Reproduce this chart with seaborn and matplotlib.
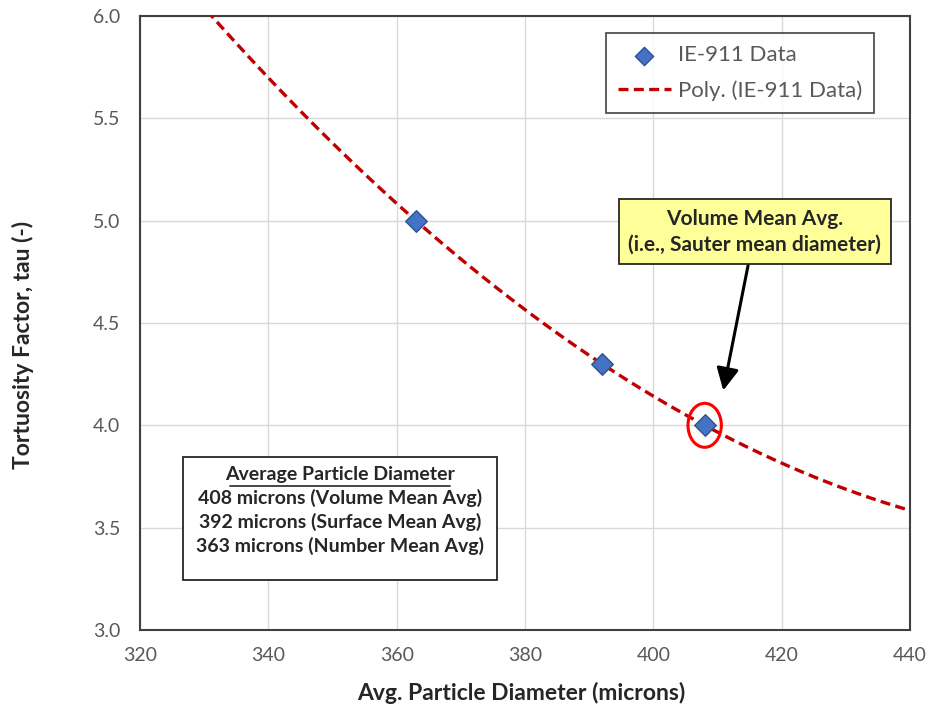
import numpy as np
import pandas as pd
import matplotlib
matplotlib.use("Agg")
import matplotlib.pyplot as plt
from matplotlib.patches import Ellipse
import seaborn as sns

# Measured data
diameters = [363, 392, 408]
tortuosity = [5.0, 4.3, 4.0]
x_ticks = [320, 340, 360, 380, 400, 420, 440]
y_ticks = [3.0, 3.5, 4.0, 4.5, 5.0, 5.5, 6.0]

sns.set_theme(style="whitegrid")
plt.rcParams["font.family"] = ["Lato", "DejaVu Sans"]

df = pd.DataFrame({"d": diameters, "tau": tortuosity})

# Second-order polynomial trendline
coef = np.polyfit(diameters, tortuosity, 2)
xs = np.linspace(320, 440, 400)
trend = pd.DataFrame({"d": xs, "tau": np.polyval(coef, xs)})

fig = plt.figure(figsize=(9.3, 7.11), dpi=100)
ax = fig.add_axes([0.1505, 0.114, 0.828, 0.8635])

sns.lineplot(data=trend, x="d", y="tau", ax=ax, color="#C00000",
             linestyle=(0, (3, 1.6)), linewidth=2.4,
             label="Poly. (IE-911 Data)", zorder=3)
sns.scatterplot(data=df, x="d", y="tau", ax=ax, marker="D", s=120,
                color="#4472C4", edgecolor="#2F528F", linewidth=1.0,
                label="IE-911 Data", zorder=4)

ax.set_xlim(320, 440)
ax.set_ylim(3.0, 6.0)
ax.set_xticks(x_ticks)
ax.set_yticks(y_ticks)
ax.set_yticklabels([f"{v:.1f}" for v in y_ticks])
ax.tick_params(axis="both", colors="#595959", labelsize=14, length=0)
ax.tick_params(axis="x", pad=12)
ax.tick_params(axis="y", pad=14)
ax.grid(True, color="#D9D9D9", linewidth=1.0)
for sp in ax.spines.values():
    sp.set_color("#404040")
    sp.set_linewidth(1.5)

ax.set_xlabel("Avg. Particle Diameter (microns)", fontsize=16.5, fontweight="bold",
              color="#262626", labelpad=16)
ax.set_ylabel("Tortuosity Factor, tau (-)", fontsize=16.5, fontweight="bold",
              color="#262626")
ax.xaxis.set_label_coords(0.495, -0.085)
ax.yaxis.set_label_coords(-0.138, 0.464)

# Legend: points first, then trendline
handles, labels = ax.get_legend_handles_labels()
order = [labels.index("IE-911 Data"), labels.index("Poly. (IE-911 Data)")]
leg = ax.legend([handles[i] for i in order], [labels[i] for i in order],
                loc="upper right", bbox_to_anchor=(0.968, 0.99),
                fontsize=16, frameon=True, fancybox=False,
                borderpad=0.55, labelspacing=0.65, handlelength=2.4,
                handletextpad=0.3, markerscale=0.85)
leg.get_frame().set_edgecolor("#262626")
leg.get_frame().set_linewidth(1.3)
for t in leg.get_texts():
    t.set_color("#595959")

# Highlight of the volume-mean point
ax.add_patch(Ellipse((diameters[2], tortuosity[2]), width=5.2, height=0.215,
                     fill=False, edgecolor="#FF0000", linewidth=2.2, zorder=5))

# Callout box with arrow
ax.annotate("Volume Mean Avg.\n(i.e., Sauter mean diameter)",
            xy=(410.9, 4.17), xytext=(415.8, 4.945),
            ha="center", va="center", fontsize=15, fontweight="bold",
            color="#262626", linespacing=1.4,
            bbox=dict(boxstyle="square,pad=0.45", fc="#FFFF99", ec="#262626", lw=1.3),
            arrowprops=dict(arrowstyle="-|>,head_width=0.45,head_length=0.9",
                            color="black", lw=2.2, shrinkA=0, shrinkB=0),
            zorder=6)

# Summary box of average diameters
summary_lines = ["408 microns (Volume Mean Avg)",
                 "392 microns (Surface Mean Avg)",
                 "363 microns (Number Mean Avg)"]
box = plt.Rectangle((0.056, 0.081), 0.408, 0.201, transform=ax.transAxes,
                    fc="white", ec="#262626", lw=1.3, zorder=6)
ax.add_patch(box)
ax.text(0.26, 0.254, "Average Particle Diameter", transform=ax.transAxes,
        ha="center", va="center", fontsize=14, fontweight="bold",
        color="#262626", zorder=7)
ax.plot([0.117, 0.403], [0.235, 0.235], transform=ax.transAxes,
        color="#262626", lw=1.2, zorder=7)
for i, line in enumerate(summary_lines):
    ax.text(0.26, 0.215 - i * 0.039, line, transform=ax.transAxes,
            ha="center", va="center", fontsize=14, fontweight="bold",
            color="#262626", zorder=7)

fig.savefig("out.png", dpi=100)
